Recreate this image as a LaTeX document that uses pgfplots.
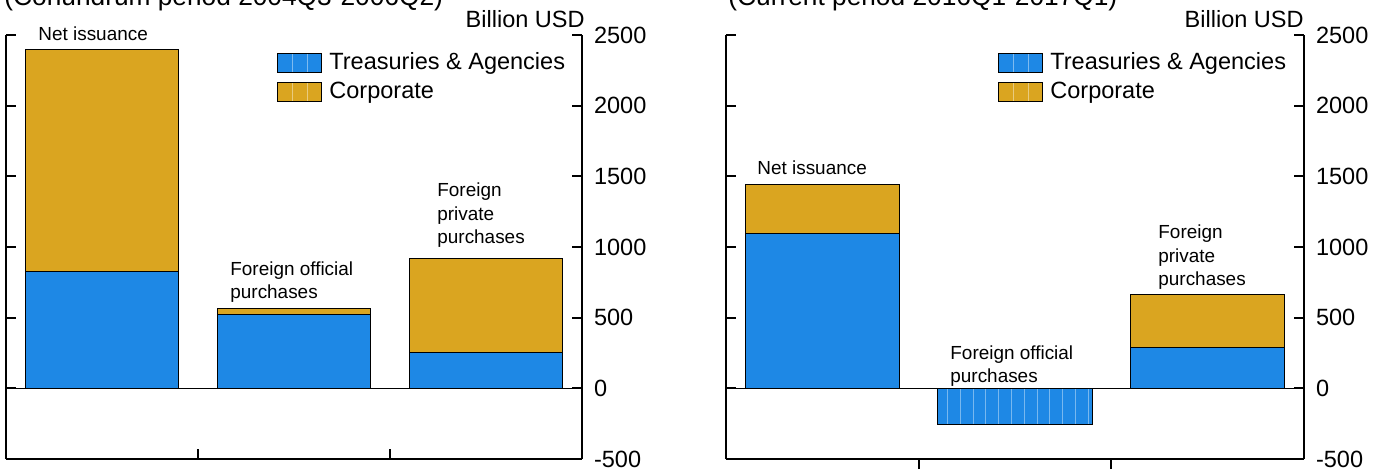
\documentclass[border=0pt]{standalone}
\usepackage{fontspec}
\setmainfont{Liberation Sans}
\usepackage{pgfplots}
\pgfplotsset{compat=1.18}
\usetikzlibrary{patterns.meta}
\definecolor{tblue}{RGB}{30,136,229}
\definecolor{corp}{RGB}{218,165,32}
\newcommand{\tk}{\fontsize{11.8}{13}\selectfont}
\newcommand{\an}{\fontsize{9.5}{11.5}\selectfont}
\pgfplotsset{
  panel/.style={
    scale only axis, height=212bp, anchor=south west,
    xmin=-0.5, xmax=2.5, ymin=-500, ymax=2500,
    axis x line=bottom, axis y line=box,
    axis line style={-, line width=1bp},
    every inner x axis line/.append style={-},
    every outer x axis line/.append style={-},
    every inner y axis line/.append style={-},
    every outer y axis line/.append style={-},
    tick align=inside, major tick length=5bp,
    tick style={line width=1bp, black},
    xtick={0.5,1.5}, xticklabels={},
    ytick={-500,0,500,1000,1500,2000,2500},
    yticklabels={-500,0,500,1000,1500,2000,2500},
    yticklabel pos=right,
    yticklabel style={font=\tk, xshift=2.5bp},
    extra y ticks={0}, extra y tick labels={},
    extra y tick style={grid=major, major grid style={black, line width=0.75bp}, tick style={draw=none}},
  },
  leg/.style={
    legend image code/.code={
      \draw[##1] (0bp,-4.75bp) rectangle (22bp,4.75bp);
      \draw[white, opacity=0.4, line width=0.3bp] (7.33bp,-4.5bp) -- (7.33bp,4.5bp) (14.67bp,-4.5bp) -- (14.67bp,4.5bp);
    },
    legend style={draw=none, fill=none, at={(0.4705,0.9646)}, anchor=north west,
      font=\tk, inner sep=0pt, row sep=2.1bp, column sep=3bp,
      nodes={inner sep=0.5bp, text height=8.9bp, text depth=2.5bp}},
    legend cell align=left,
  }
}
\begin{document}
\begin{tikzpicture}
\begin{axis}[panel, ybar stacked, bar width=0.8, leg, at={(3bp,-229.5bp)}, width=288bp]
\addplot[fill=tblue, draw=black, line width=0.5bp] coordinates {(0,830) (1,524) (2,255)};
\addplot[fill=corp, draw=black, line width=0.5bp] coordinates {(0,1564) (1,43) (2,666)};
\legend{Treasuries \& Agencies, Corporate}
\end{axis}
\begin{axis}[panel, ybar, bar shift=0pt, bar width=0.8, leg, reverse legend, at={(363bp,-229.5bp)}, width=289bp]
% Corporate drawn as total height (Treasuries + Corporate), Treasuries drawn over it
\addplot[fill=corp, draw=black, line width=0.5bp] coordinates {(0,1445) (2,666)};
\addlegendentry{Corporate}
\addplot[fill=tblue, draw=black, line width=0.5bp] coordinates {(0,1098) (2,290)};
\addlegendentry{Treasuries \& Agencies}
\addplot[fill=tblue, draw=black, line width=0.5bp, forget plot,
  postaction={pattern={Lines[angle=90, distance=6.4bp, line width=0.3bp]}, pattern color=tblue!60!white}]
  coordinates {(1,-255)};
\end{axis}
\begin{scope}[x=0.5bp, y=-0.5bp, every node/.style={inner sep=0pt, anchor=base west}]
\node[font=\fontsize{13.2}{15}\selectfont] at (4,6) {(Conundrum period 2004Q3-2006Q2)};
\node[font=\fontsize{13.2}{15}\selectfont] at (728,6) {(Current period 2016Q1-2017Q1)};
\node[font=\tk, anchor=base east] at (585,28) {Billion USD};
\node[font=\tk, anchor=base east] at (1304,28) {Billion USD};
\node[font=\an] at (38,41) {Net issuance};
\node[font=\an] at (230,276) {Foreign official};
\node[font=\an] at (230,299) {purchases};
\node[font=\an] at (437,197) {Foreign};
\node[font=\an] at (437,221) {private};
\node[font=\an] at (437,244) {purchases};
\node[font=\an] at (757,175) {Net issuance};
\node[font=\an] at (950,360) {Foreign official};
\node[font=\an] at (950,383) {purchases};
\node[font=\an] at (1158,239) {Foreign};
\node[font=\an] at (1158,263) {private};
\node[font=\an] at (1158,286) {purchases};
\pgfresetboundingbox
\useasboundingbox (0,0) rectangle (1384,472);
\end{scope}
\end{tikzpicture}
\end{document}
